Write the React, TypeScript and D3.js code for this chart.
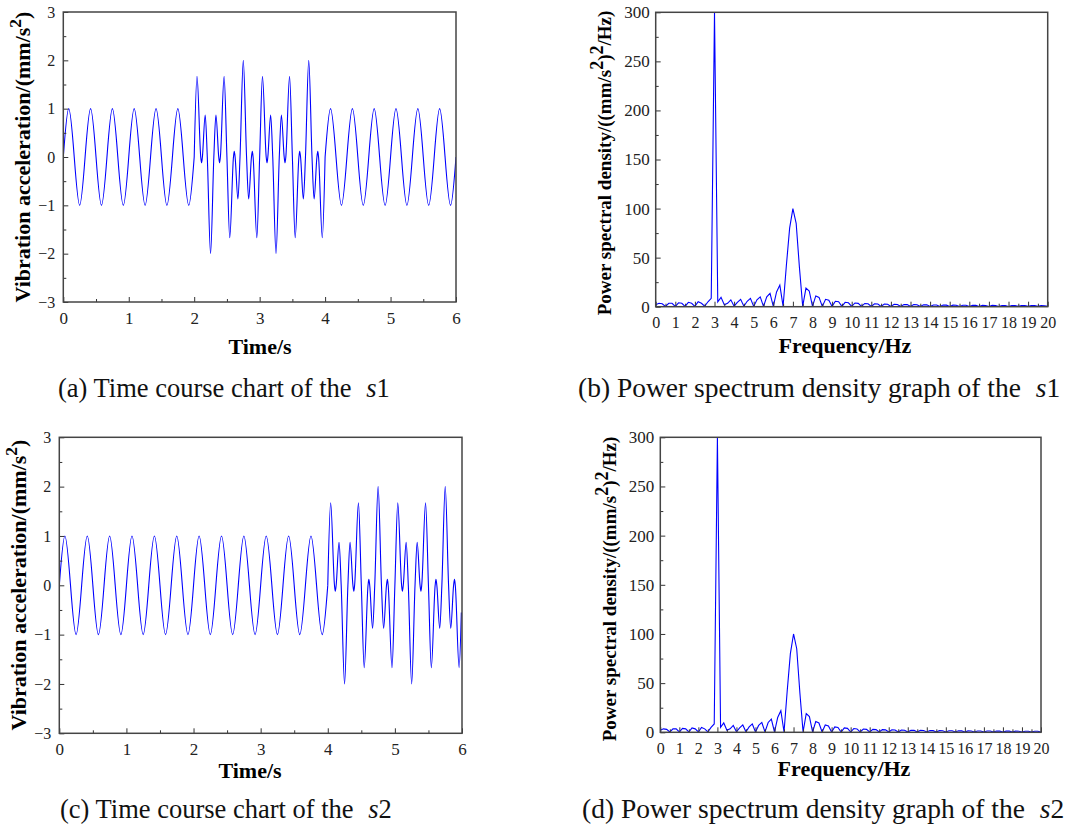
import React, { useEffect, useRef } from 'react';
import * as d3 from 'd3';

// s1 time course: peaks, troughs and zero crossings
const s1Time = [
  0, 0.083, 0.167, 0.25, 0.333, 0.417, 0.5, 0.583, 0.667, 0.75, 0.833, 0.917,
  1, 1.083, 1.167, 1.25, 1.333, 1.417, 1.5, 1.583, 1.667, 1.75, 1.833, 1.917, 2,
  2.043, 2.1, 2.112, 2.125, 2.168, 2.2, 2.25, 2.3, 2.332, 2.375, 2.388, 2.4, 2.457, 2.5,
  2.543, 2.6, 2.612, 2.625, 2.668, 2.7, 2.75, 2.8, 2.832, 2.875, 2.888, 2.9, 2.957, 3,
  3.043, 3.1, 3.112, 3.125, 3.168, 3.2, 3.25, 3.3, 3.332, 3.375, 3.388, 3.4, 3.457, 3.5,
  3.543, 3.6, 3.612, 3.625, 3.668, 3.7, 3.75, 3.8, 3.832, 3.875, 3.888, 3.9, 3.957, 4,
  4.083, 4.167, 4.25, 4.333, 4.417, 4.5, 4.583, 4.667, 4.75, 4.833, 4.917,
  5, 5.083, 5.167, 5.25, 5.333, 5.417, 5.5, 5.583, 5.667, 5.75, 5.833, 5.917, 6,
];
const s1Accel = [
  0, 1, 0, -1, 0, 1, 0, -1, 0, 1, 0, -1,
  0, 1, 0, -1, 0, 1, 0, -1, 0, 1, 0, -1, 0,
  1.67, 0, -0.12, 0, 0.87, 0, -2, 0, 0.87, 0, -0.12, 0, 1.67, 0,
  -1.67, 0, 0.12, 0, -0.87, 0, 2, 0, -0.87, 0, 0.12, 0, -1.67, 0,
  1.67, 0, -0.12, 0, 0.87, 0, -2, 0, 0.87, 0, -0.12, 0, 1.67, 0,
  -1.67, 0, 0.12, 0, -0.87, 0, 2, 0, -0.87, 0, 0.12, 0, -1.67, 0,
  1, 0, -1, 0, 1, 0, -1, 0, 1, 0, -1,
  0, 1, 0, -1, 0, 1, 0, -1, 0, 1, 0, -1, 0,
];
// time span where the 7 Hz burst is on
const s1Burst = [2, 4];

// s2 time course
const s2Time = [
  0, 0.083, 0.167, 0.25, 0.333, 0.417, 0.5, 0.583, 0.667, 0.75, 0.833, 0.917,
  1, 1.083, 1.167, 1.25, 1.333, 1.417, 1.5, 1.583, 1.667, 1.75, 1.833, 1.917,
  2, 2.083, 2.167, 2.25, 2.333, 2.417, 2.5, 2.583, 2.667, 2.75, 2.833, 2.917,
  3, 3.083, 3.167, 3.25, 3.333, 3.417, 3.5, 3.583, 3.667, 3.75, 3.833, 3.917, 4,
  4.043, 4.1, 4.112, 4.125, 4.168, 4.2, 4.25, 4.3, 4.332, 4.375, 4.388, 4.4, 4.457, 4.5,
  4.543, 4.6, 4.612, 4.625, 4.668, 4.7, 4.75, 4.8, 4.832, 4.875, 4.888, 4.9, 4.957, 5,
  5.043, 5.1, 5.112, 5.125, 5.168, 5.2, 5.25, 5.3, 5.332, 5.375, 5.388, 5.4, 5.457, 5.5,
  5.543, 5.6, 5.612, 5.625, 5.668, 5.7, 5.75, 5.8, 5.832, 5.875, 5.888, 5.9, 5.957, 5.99,
];
const s2Accel = [
  0, 1, 0, -1, 0, 1, 0, -1, 0, 1, 0, -1,
  0, 1, 0, -1, 0, 1, 0, -1, 0, 1, 0, -1,
  0, 1, 0, -1, 0, 1, 0, -1, 0, 1, 0, -1,
  0, 1, 0, -1, 0, 1, 0, -1, 0, 1, 0, -1, 0,
  1.67, 0, -0.12, 0, 0.87, 0, -2, 0, 0.87, 0, -0.12, 0, 1.67, 0,
  -1.67, 0, 0.12, 0, -0.87, 0, 2, 0, -0.87, 0, 0.12, 0, -1.67, 0,
  1.67, 0, -0.12, 0, 0.87, 0, -2, 0, 0.87, 0, -0.12, 0, 1.67, 0,
  -1.67, 0, 0.12, 0, -0.87, 0, 2, 0, -0.87, 0, 0.12, 0, -1.67, -0.55,
];
const s2Burst = [4, 6];

// PSD, one value per 1/6 Hz bin from 0 to 20 Hz
const binWidth = 1 / 6;
const psdS1 = [
  2, 3.5, 3, 0.3, 3.5, 3.5, 0.3, 4, 3.5, 0.3, 4.5, 3.5, 0.3, 5, 3.5, 0.5, 5, 8.5,
  300,
  5, 9.5, 2, 3.5, 7, 0.5, 4.5, 7.5, 0.5, 5.5, 8.5, 0.3, 7, 10, 0.3, 10, 13.5, 0.3, 15, 22, 0.3, 42, 80,
  100,
  85, 40, 0.3, 19, 16, 0.3, 11, 9.5, 0.3, 7.5, 6.5, 0.3, 5.5, 5, 0.3, 4.5, 4,
  0.3, 3.8, 3.4, 0.3, 3.3, 3.0, 0.3, 3.0, 2.7, 0.3, 2.7, 2.5, 0.3, 2.5, 2.3,
  0.3, 2.3, 2.1, 0.3, 2.1, 2.0, 0.3, 2.0, 1.9, 0.3, 1.8, 1.7, 0.3, 1.7, 1.6,
  0.3, 1.6, 1.5, 0.3, 1.5, 1.45, 0.3, 1.4, 1.35, 0.3, 1.35, 1.3, 0.3, 1.3, 1.25,
  0.3, 1.25, 1.2, 0.3, 1.2, 1.15, 0.3, 1.15, 1.1, 0.3, 1.1, 1.05, 0.3, 1.05, 1.0, 0.3,
];
// panel (d) reads the same as (b)
const psdS2 = psdS1;

const timeTicks = [0, 1, 2, 3, 4, 5, 6];
const timeMinor = [0.5, 1.5, 2.5, 3.5, 4.5, 5.5];
const accelTicks = [-3, -2, -1, 0, 1, 2, 3];
const accelMinor = [-2.5, -1.5, -0.5, 0.5, 1.5, 2.5];
const freqTicks = d3.range(0, 21);
const freqMinor = d3.range(0.5, 20, 1);
const psdTicks = [0, 50, 100, 150, 200, 250, 300];
const psdMinor = [25, 75, 125, 175, 225, 275];

const SERIF = 'Liberation Serif, Times New Roman, Times, serif';

const drawPanel = (svg, p) => {
  const x = d3.scaleLinear().domain(p.xDomain).range([p.left, p.right]);
  const y = d3.scaleLinear().domain(p.yDomain).range([p.bottom, p.top]);

  svg.append('clipPath').attr('id', p.id)
    .append('rect')
    .attr('x', p.left).attr('y', p.top)
    .attr('width', p.right - p.left).attr('height', p.bottom - p.top);

  // each piece [t0, t1, curve] drawn with its own curve so the burst does not overshoot
  p.pieces.forEach(([t0, t1, curve]) => {
    const idx = p.xs.map((d, i) => i).filter(i => p.xs[i] >= t0 && p.xs[i] <= t1);
    const line = d3.line()
      .x(i => x(p.xs[i]))
      .y(i => y(p.ys[i]))
      .curve(curve);
    svg.append('path')
      .datum(idx)
      .attr('d', line)
      .attr('fill', 'none')
      .attr('stroke', '#0000ff')
      .attr('stroke-width', 1.1)
      .attr('clip-path', `url(#${p.id})`);
  });

  const fmt = d3.format('d');
  // major ticks point inward
  const xAxis = svg.append('g')
    .attr('transform', `translate(0,${p.bottom})`)
    .call(d3.axisBottom(x).tickValues(p.xTicks).tickSizeInner(-5).tickSizeOuter(0).tickPadding(p.xPad).tickFormat(fmt));
  const yAxis = svg.append('g')
    .attr('transform', `translate(${p.left},0)`)
    .call(d3.axisLeft(y).tickValues(p.yTicks).tickSizeInner(-5).tickSizeOuter(0).tickPadding(p.yPad).tickFormat(fmt));

  svg.append('g')
    .attr('transform', `translate(0,${p.bottom})`)
    .call(d3.axisBottom(x).tickValues(p.xMinor).tickSizeInner(-3).tickSizeOuter(0).tickFormat(() => ''))
    .call(g => g.select('.domain').remove());
  svg.append('g')
    .attr('transform', `translate(${p.left},0)`)
    .call(d3.axisLeft(y).tickValues(p.yMinor).tickSizeInner(-3).tickSizeOuter(0).tickFormat(() => ''))
    .call(g => g.select('.domain').remove());

  xAxis.selectAll('text')
    .attr('font-family', SERIF)
    .attr('font-size', p.xTickFont)
    .attr('fill', '#222');
  yAxis.selectAll('text')
    .attr('font-family', SERIF)
    .attr('font-size', p.yTickFont)
    .attr('fill', '#222');
  svg.selectAll('.tick line').attr('stroke', '#333').attr('stroke-width', 1);

  // frame
  svg.append('rect')
    .attr('x', p.left).attr('y', p.top)
    .attr('width', p.right - p.left).attr('height', p.bottom - p.top)
    .attr('fill', 'none')
    .attr('stroke', '#444')
    .attr('stroke-width', 1.5);
  svg.selectAll('.domain').remove();

  // axis titles
  svg.append('text')
    .attr('x', p.xLabelX).attr('y', p.xLabelY)
    .attr('text-anchor', 'middle')
    .attr('font-family', SERIF)
    .attr('font-weight', 'bold')
    .attr('font-size', 22)
    .text(p.xLabel);

  const yl = svg.append('text')
    .attr('transform', `translate(${p.yLabelX},${p.yLabelY}) rotate(-90)`)
    .attr('text-anchor', 'middle')
    .attr('font-family', SERIF)
    .attr('font-weight', 'bold')
    .attr('font-size', p.yLabelSize);
  p.yLabel.forEach(part => {
    const t = yl.append('tspan').text(part.text);
    if (part.sup) t.attr('dy', -p.yLabelSize * 0.4).attr('font-size', p.yLabelSize * p.supScale);
    else if (part.after) t.attr('dy', p.yLabelSize * 0.4);
  });

  // caption
  const cap = svg.append('text')
    .attr('x', p.capX).attr('y', p.capY)
    .attr('font-family', SERIF)
    .attr('font-size', p.capSize)
    .attr('fill', '#111');
  cap.append('tspan').text(p.caption);
  cap.append('tspan').attr('dx', 8).attr('font-style', 'italic').text('s');
  cap.append('tspan').text(p.capNum);
};

const accelLabel = [
  { text: 'Vibration acceleration/(mm/s' },
  { text: '2', sup: true },
  { text: ')', after: true },
];
const psdLabel = [
  { text: 'Power spectral density/((mm/s' },
  { text: '2', sup: true },
  { text: ')', after: true },
  { text: '2', sup: true },
  { text: '/Hz)', after: true },
];

const App = () => {
  const ref = useRef(null);

  useEffect(() => {
    const svg = d3.select(ref.current);
    svg.selectAll('*').remove();
    const psdFreq = psdS1.map((d, i) => i * binWidth);

    drawPanel(svg, {
      id: 'pa', xs: s1Time, ys: s1Accel,
      pieces: [[0, s1Burst[0], d3.curveNatural], [s1Burst[0], s1Burst[1], d3.curveMonotoneX], [s1Burst[1], 6, d3.curveNatural]],
      left: 63.3, right: 456, top: 12, bottom: 302,
      xDomain: [0, 6], yDomain: [-3, 3],
      xTicks: timeTicks, xMinor: timeMinor, yTicks: accelTicks, yMinor: accelMinor,
      xTickFont: 17, yTickFont: 16, xPad: 10, yPad: 8,
      xLabel: 'Time/s', xLabelX: 260, xLabelY: 354,
      yLabel: accelLabel, yLabelX: 30, yLabelY: 157, yLabelSize: 22, supScale: 0.8,
      caption: '(a) Time course chart of the ', capNum: '1', capX: 58, capY: 397, capSize: 26.5,
    });
    drawPanel(svg, {
      id: 'pb', xs: psdFreq, ys: psdS1,
      pieces: [[0, 20, d3.curveLinear]],
      left: 655.7, right: 1047.7, top: 12.3, bottom: 306.7,
      xDomain: [0, 20], yDomain: [0, 300],
      xTicks: freqTicks, xMinor: freqMinor, yTicks: psdTicks, yMinor: psdMinor,
      xTickFont: 16, yTickFont: 17, xPad: 10, yPad: 6,
      xLabel: 'Frequency/Hz', xLabelX: 845, xLabelY: 353,
      yLabel: psdLabel, yLabelX: 611, yLabelY: 163, yLabelSize: 19, supScale: 0.95,
      caption: '(b) Power spectrum density graph of the ', capNum: '1', capX: 578, capY: 397, capSize: 27.5,
    });
    drawPanel(svg, {
      id: 'pc', xs: s2Time, ys: s2Accel,
      pieces: [[0, s2Burst[0], d3.curveNatural], [s2Burst[0], s2Burst[1], d3.curveMonotoneX]],
      left: 59.3, right: 462, top: 437.3, bottom: 733.3,
      xDomain: [0, 6], yDomain: [-3, 3],
      xTicks: timeTicks, xMinor: timeMinor, yTicks: accelTicks, yMinor: accelMinor,
      xTickFont: 17, yTickFont: 16, xPad: 10, yPad: 8,
      xLabel: 'Time/s', xLabelX: 250, xLabelY: 778,
      yLabel: accelLabel, yLabelX: 26, yLabelY: 585, yLabelSize: 22, supScale: 0.8,
      caption: '(c) Time course chart of the ', capNum: '2', capX: 60, capY: 818, capSize: 26.5,
    });
    drawPanel(svg, {
      id: 'pd', xs: psdFreq, ys: psdS2,
      pieces: [[0, 20, d3.curveLinear]],
      left: 660.3, right: 1041, top: 437.3, bottom: 732.3,
      xDomain: [0, 20], yDomain: [0, 300],
      xTicks: freqTicks, xMinor: freqMinor, yTicks: psdTicks, yMinor: psdMinor,
      xTickFont: 16, yTickFont: 17, xPad: 10, yPad: 6,
      xLabel: 'Frequency/Hz', xLabelX: 844, xLabelY: 776,
      yLabel: psdLabel, yLabelX: 616, yLabelY: 589, yLabelSize: 19, supScale: 0.95,
      caption: '(d) Power spectrum density graph of the ', capNum: '2', capX: 582, capY: 818, capSize: 27.5,
    });
  }, []);

  return (
    <svg
      ref={ref}
      width={1068}
      height={837}
      style={{ position: 'absolute', left: 0, top: 0, background: '#fff' }}
    />
  );
};

export default App;
